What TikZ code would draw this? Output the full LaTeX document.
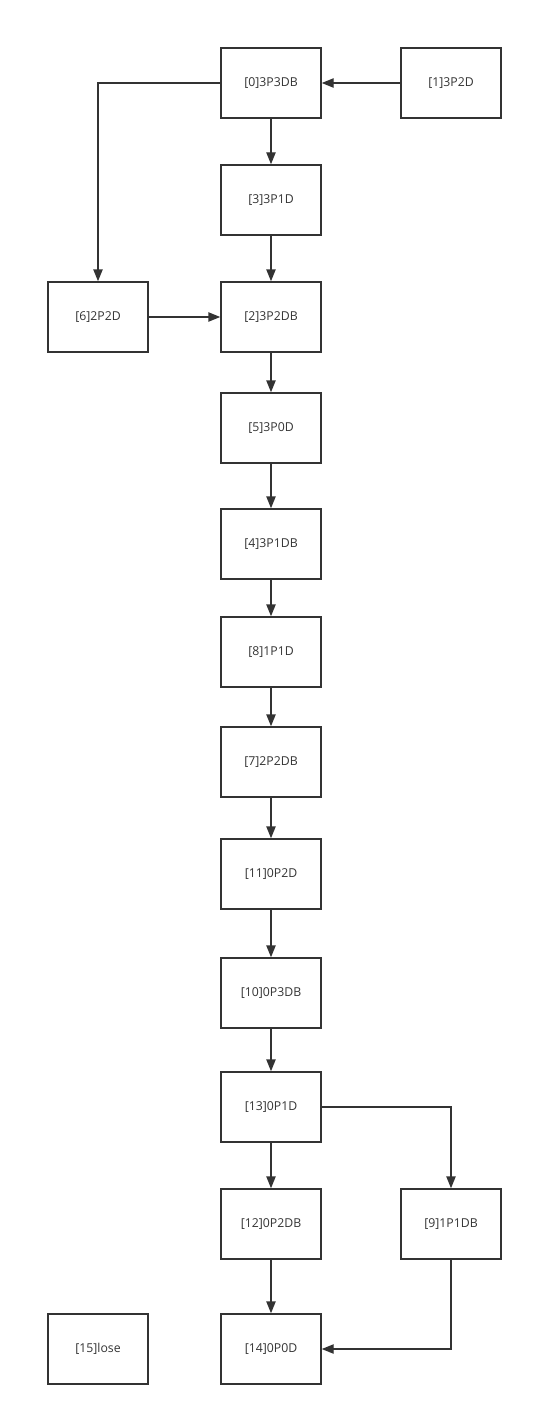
\documentclass[tikz,border=0pt]{standalone}
\usepackage{fontspec}
\setmainfont{Open Sans}
\usetikzlibrary{arrows.meta}
\definecolor{linegray}{HTML}{333333}
\tikzset{
	statebox/.style={draw=linegray, line width=1.1pt, minimum width=75pt, minimum height=52.5pt, inner sep=0pt, font=\fontsize{9.2}{11}\selectfont, text=linegray},
	flow/.style={draw=linegray, line width=1.1pt, -{Triangle[length=9pt,width=7pt]}}
}
\begin{document}
\begin{tikzpicture}[x=0.75pt, y=-0.75pt]
	\useasboundingbox (0,0) rectangle (533,1416);

			\node[statebox] (s0) at (271,83) {[0]3P3DB};
			\node[statebox] (s1) at (451,83) {[1]3P2D};
			\node[statebox] (s3) at (271,200) {[3]3P1D};
			\node[statebox] (s6) at (98,317) {[6]2P2D};
			\node[statebox] (s2) at (271,317) {[2]3P2DB};
			\node[statebox] (s5) at (271,428) {[5]3P0D};
			\node[statebox] (s4) at (271,544) {[4]3P1DB};
			\node[statebox] (s8) at (271,652) {[8]1P1D};
			\node[statebox] (s7) at (271,762) {[7]2P2DB};
			\node[statebox] (s11) at (271,874) {[11]0P2D};
			\node[statebox] (s10) at (271,993) {[10]0P3DB};
			\node[statebox] (s13) at (271,1107) {[13]0P1D};
			\node[statebox] (s12) at (271,1224) {[12]0P2DB};
			\node[statebox] (s9) at (451,1224) {[9]1P1DB};
			\node[statebox] (s14) at (271,1349) {[14]0P0D};
			\node[statebox] (s15) at (98,1349) {[15]lose};

			\draw[flow] (s1) -- (s0);
			\draw[flow] (s0) -- (s3);
			\draw[flow] (s0.west) -| (s6.north);
			\draw[flow] (s3) -- (s2);
			\draw[flow] (s6) -- (s2);
			\draw[flow] (s2) -- (s5);
			\draw[flow] (s5) -- (s4);
			\draw[flow] (s4) -- (s8);
			\draw[flow] (s8) -- (s7);
			\draw[flow] (s7) -- (s11);
			\draw[flow] (s11) -- (s10);
			\draw[flow] (s10) -- (s13);
			\draw[flow] (s13) -- (s12);
			\draw[flow] (s13.east) -| (s9.north);
			\draw[flow] (s12) -- (s14);
			\draw[flow] (s9.south) |- (s14.east);

\end{tikzpicture}
\end{document}
